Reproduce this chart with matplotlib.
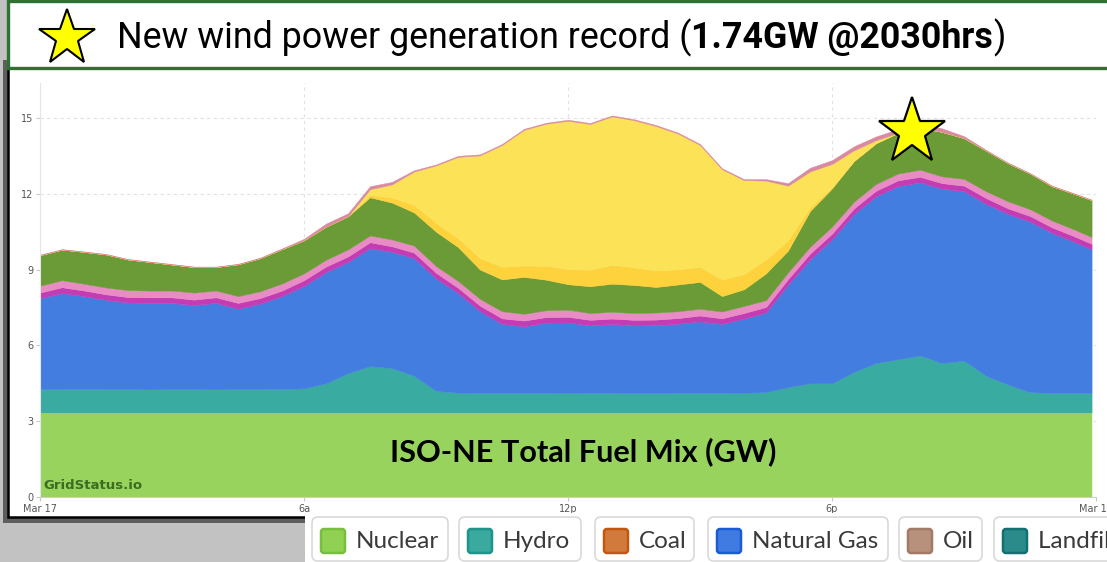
import numpy as np
import matplotlib.pyplot as plt
from matplotlib.patches import Rectangle, FancyBboxPatch
from matplotlib.transforms import IdentityTransform
from matplotlib.lines import Line2D

W, H = 1107, 562
px = IdentityTransform()

# ---- data (GW), half-hourly ----
hours = np.append(np.arange(0, 24, 0.5), 23.9)

nuclear = [3.35, 3.35, 3.35, 3.35, 3.35, 3.35, 3.35, 3.35, 3.35, 3.35, 3.35, 3.35, 3.35,
           3.35, 3.35, 3.35, 3.35, 3.35, 3.35, 3.35, 3.35, 3.35, 3.35, 3.35, 3.35, 3.35,
           3.35, 3.35, 3.35, 3.35, 3.35, 3.35, 3.35, 3.35, 3.35, 3.35, 3.35, 3.35, 3.35,
           3.35, 3.35, 3.35, 3.35, 3.35, 3.35, 3.35, 3.35, 3.35, 3.35]
hydro = [0.92, 0.92, 0.93, 0.92, 0.92, 0.91, 0.92, 0.92, 0.91, 0.92, 0.92, 0.93, 0.95,
         1.15, 1.55, 1.83, 1.75, 1.45, 0.85,
         0.78, 0.77, 0.77, 0.77, 0.77, 0.78, 0.77, 0.77, 0.76, 0.76, 0.77, 0.77, 0.77, 0.78, 0.80,
         1.00, 1.15, 1.15, 1.60, 1.95, 2.10, 2.25, 1.95, 2.05, 1.45, 1.10, 0.80, 0.77, 0.77, 0.77]
natural_gas = [3.60, 3.80, 3.67, 3.53, 3.43, 3.42, 3.41, 3.33, 3.42, 3.18, 3.38, 3.67, 4.05,
               4.40, 4.40, 4.67, 4.60, 4.65, 4.45, 3.94, 3.23, 2.73, 2.63, 2.78, 2.78, 2.67,
               2.73, 2.68, 2.69, 2.74, 2.83, 2.73, 2.93, 3.15, 4.05, 4.90, 5.70, 6.25, 6.60,
               6.85, 6.85, 6.90, 6.70, 6.80, 6.75, 6.75, 6.33, 5.98, 5.68]
refuse = [0.22, 0.23, 0.22, 0.22, 0.21, 0.22, 0.22, 0.21, 0.22, 0.23, 0.22, 0.22, 0.23,
          0.22, 0.22, 0.23, 0.22, 0.22, 0.22, 0.21, 0.22, 0.22, 0.23, 0.22, 0.22, 0.22,
          0.21, 0.22, 0.22, 0.22, 0.23, 0.22, 0.22, 0.22, 0.22, 0.23, 0.22, 0.22, 0.22,
          0.23, 0.22, 0.22, 0.22, 0.23, 0.22, 0.22, 0.22, 0.22, 0.22]
wood = [0.27, 0.28, 0.27, 0.27, 0.28, 0.27, 0.27, 0.28, 0.27, 0.27, 0.27, 0.28, 0.27,
        0.27, 0.28, 0.27, 0.27, 0.28, 0.27, 0.27, 0.27, 0.28, 0.27, 0.27, 0.28, 0.27,
        0.27, 0.27, 0.28, 0.27, 0.27, 0.27, 0.28, 0.27, 0.27, 0.27, 0.28, 0.27, 0.27,
        0.27, 0.28, 0.27, 0.27, 0.27, 0.28, 0.27, 0.27, 0.27, 0.27]
wind = [1.21, 1.21, 1.26, 1.31, 1.21, 1.13, 1.03, 1.01, 0.93, 1.26, 1.31, 1.36, 1.31,
        1.31, 1.31, 1.51, 1.46, 1.31, 1.36, 1.34, 1.16, 1.26, 1.46, 1.21, 1.01, 1.06,
        1.11, 1.11, 1.01, 1.06, 1.06, 0.61, 0.66, 1.06, 0.86, 1.41, 1.51, 1.61, 1.61,
        1.61, 1.66, 1.76, 1.61, 1.61, 1.51, 1.41, 1.36, 1.41, 1.46]
solar_btm = [0, 0, 0, 0, 0, 0, 0, 0, 0, 0, 0, 0, 0, 0, 0,
             0.10, 0.20, 0.30, 0.35, 0.35, 0.45, 0.50, 0.45, 0.55, 0.60, 0.65, 0.75, 0.70,
             0.65, 0.60, 0.60, 0.65, 0.60, 0.55, 0.40, 0.15, 0.05,
             0, 0, 0, 0, 0, 0, 0, 0, 0, 0, 0, 0]
solar = [0, 0, 0, 0, 0, 0, 0, 0, 0, 0, 0, 0, 0, 0, 0,
         0.22, 0.52, 1.32, 2.27, 3.22, 4.07, 4.82, 5.37, 5.62, 5.87, 5.77, 5.87, 5.82,
         5.72, 5.37, 4.82, 4.37, 3.72, 3.12, 2.17, 1.42, 0.92, 0.42, 0.12,
         0, 0, 0, 0, 0, 0, 0, 0, 0, 0]
other = [0.02, 0.02, 0.02, 0.02, 0.02, 0.02, 0.02, 0.02, 0.02, 0.02, 0.02, 0.03, 0.06,
         0.12, 0.12, 0.12, 0.10, 0.05, 0.04, 0.04, 0.04, 0.04, 0.04, 0.04, 0.04, 0.04,
         0.04, 0.04, 0.04, 0.04, 0.04, 0.04, 0.04, 0.06, 0.10, 0.15, 0.15, 0.16, 0.15,
         0.15, 0.15, 0.14, 0.08, 0.03, 0.02, 0.02, 0.02, 0.02, 0.02]

series = [nuclear, hydro, natural_gas, refuse, wood, wind, solar_btm, solar, other]
fills = ['#98d35e', '#3aaba1', '#437ddf', '#c33cb4', '#e98bc4', '#6a9b37', '#fed23c',
         '#fbe257', '#d98aa0']

legend_names = ['Nuclear', 'Hydro', 'Coal', 'Natural Gas', 'Oil', 'Landfill Gas']
legend_face = ['#90d052', '#3aa99e', '#d27a3c', '#3f7be0', '#b8917c', '#2b8a8a']
legend_edge = ['#78c03c', '#1f948a', '#c2580f', '#1b5bd6', '#a37a65', '#137070']

tick_hours = [0, 6, 12, 18, 24]
tick_names = ['Mar 17', '6a', '12p', '6p', 'Mar 18']
y_ticks = [0, 3, 6, 9, 12, 15]

fig = plt.figure(figsize=(W / 100, H / 100), dpi=100)
fig.patch.set_facecolor('#c2c2c2')
r = fig.canvas.get_renderer()


def rect(x0, y0, x1, y1, **kw):
    # pixel coords measured from the top-left corner
    return Rectangle((x0, H - y1), x1 - x0, y1 - y0, transform=px, **kw)


def rbox(x0, y0, x1, y1, rad, **kw):
    return FancyBboxPatch((x0, H - y1), x1 - x0, y1 - y0, transform=px,
                          boxstyle='round,pad=0,rounding_size=%g' % rad, **kw)


# card with shadow (below the axes)
fig.add_artist(rect(3, 60, 1115, 523, facecolor='#5e5e5e', edgecolor='none', zorder=-2))
fig.add_artist(rect(8, 60, 1115, 517, facecolor='white', edgecolor='black', linewidth=1.8, zorder=-1))

# chart
ax = fig.add_axes([40 / W, (H - 497) / H, 1056 / W, 414 / H])
ax.set_zorder(1)
ax.patch.set_alpha(0)
polys = ax.stackplot(hours, *series, colors=fills, linewidth=0)
for p in polys:
    p.set_edgecolor(p.get_facecolor())
    p.set_linewidth(0.3)
ax.set_xlim(0, 24)
ax.set_ylim(0, 414 / 25.27)
ax.set_yticks(y_ticks)
ax.set_xticks(tick_hours)
ax.set_xticklabels(tick_names)
ax.set_axisbelow(True)
ax.grid(True, color='#e2e2e2', linestyle=(0, (3, 3)), linewidth=0.8)
for s in ['top', 'right']:
    ax.spines[s].set_visible(False)
ax.spines['left'].set_color('#e6e6e6')
ax.spines['bottom'].set_color('#cfcfcf')
ax.tick_params(axis='both', length=3, color='#c8c8c8', labelsize=7, labelcolor='#555555', pad=2)

ax.text(0.08, 0.2, 'GridStatus.io', fontsize=9.5, fontweight='bold', color='#3d6b22',
        va='bottom', ha='left')
title = ax.text(12.35, 1.78, 'ISO-NE Total Fuel Mix (GW)', fontsize=17, fontweight='bold',
                family=['Lato', 'DejaVu Sans'], color='black', ha='center', va='center')
title.set_fontsize(17 * 386 / title.get_window_extent(r).width)

ax.plot([19.82], [14.45], marker='*', markersize=50, markerfacecolor='#ffff00',
        markeredgecolor='black', markeredgewidth=1.6, clip_on=False, zorder=10)

# banner
fig.add_artist(rect(8, 1, 1125, 68, facecolor='white', edgecolor='#2e7233', linewidth=2.4, zorder=3))
fig.add_artist(Line2D([67], [H - 38], marker='*', markersize=42, markerfacecolor='#ffff00',
                      markeredgecolor='black', markeredgewidth=1.5, transform=px, zorder=4))
parts = [('New wind power generation record (', 'normal'), ('1.74GW @2030hrs', 'bold'), (')', 'normal')]
texts = []
for s, wgt in parts:
    texts.append(fig.text(0, 0, s, transform=px, fontsize=20, fontweight=wgt, va='center',
                          family=['Roboto', 'DejaVu Sans'], zorder=4))
scale = 888 / sum(t.get_window_extent(r).width for t in texts)
x = 117
for t in texts:
    t.set_fontsize(20 * scale)
    t.set_position((x, H - 38))
    x += t.get_window_extent(r).width

# legend strip
fig.add_artist(rect(305, 513, 1120, 570, facecolor='white', edgecolor='none', zorder=3))
box_x = [(312, 448), (459, 581), (595, 694), (708, 888), (899, 982), (994, 1140)]
probe = fig.text(0, 0, 'Natural Gas', transform=px, fontsize=14, family=['Lato', 'DejaVu Sans'])
lsize = 14 * 126 / probe.get_window_extent(r).width
probe.remove()
for (x0, x1), name, fc, ec in zip(box_x, legend_names, legend_face, legend_edge):
    fig.add_artist(rbox(x0, 517, x1, 561, 6, facecolor='white', edgecolor='#d9d9d9',
                        linewidth=1.2, zorder=4))
    fig.add_artist(rbox(x0 + 9, 529, x0 + 33, 553, 3, facecolor=fc, edgecolor=ec,
                        linewidth=1.8, zorder=5))
    fig.text(x0 + 44, H - 541, name, transform=px, fontsize=lsize, color='#3a3a3a',
             va='center', ha='left', family=['Lato', 'DejaVu Sans'], zorder=5)

fig.savefig('out.png', dpi=100, facecolor=fig.get_facecolor())
